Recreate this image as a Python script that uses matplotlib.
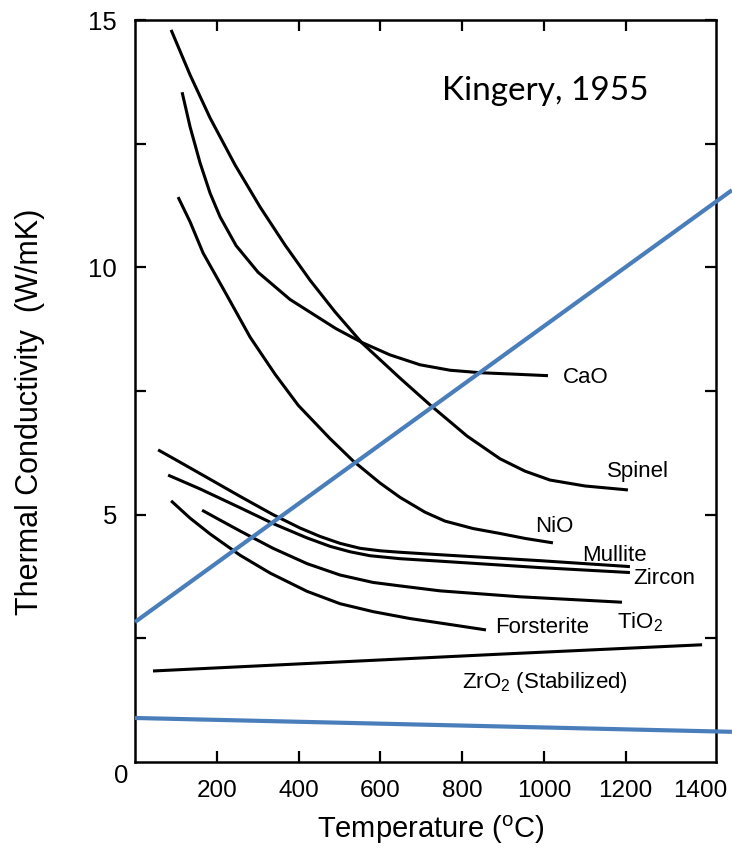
import matplotlib
matplotlib.use("Agg")
import matplotlib.pyplot as plt
import matplotlib.transforms as mtransforms

plt.rcParams['font.family'] = ['Liberation Sans', 'DejaVu Sans']
plt.rcParams['mathtext.fontset'] = 'custom'
plt.rcParams['mathtext.rm'] = 'Liberation Sans'

# ---- data (temperature in °C, conductivity in W/mK) ----
spinel_t = [88.3, 134.7, 183.6, 244.7, 305.9, 367.0, 428.1, 489.2, 555.3, 648.2,
            721.5, 812.0, 892.7, 953.8, 1014.9, 1100.5, 1205.6]
spinel_k = [14.80, 13.89, 13.02, 12.07, 11.22, 10.45, 9.74, 9.10, 8.47, 7.76,
            7.22, 6.59, 6.13, 5.88, 5.70, 5.58, 5.50]

cao_t = [115.2, 134.7, 159.2, 183.6, 208.1, 247.2, 301.0, 379.2, 491.7, 555.3,
         623.7, 697.1, 770.4, 843.8, 929.3, 1010.0]
cao_k = [13.54, 12.84, 12.11, 11.50, 11.02, 10.44, 9.90, 9.35, 8.76, 8.48,
         8.23, 8.03, 7.92, 7.87, 7.84, 7.81]

nio_t = [105.4, 134.7, 166.5, 220.3, 281.4, 342.5, 399.3, 476.7, 533.0, 599.3,
         648.2, 709.3, 758.2, 826.7, 892.7, 953.8, 1022.2]
nio_k = [11.42, 10.92, 10.29, 9.50, 8.59, 7.84, 7.21, 6.54, 6.09, 5.64,
         5.35, 5.05, 4.87, 4.72, 4.62, 4.52, 4.43]

mullite_t = [56.5, 110.3, 176.3, 257.0, 337.7, 403.7, 452.6, 501.5, 550.4, 599.3,
             648.2, 746.0, 990.5, 1210.5]
mullite_k = [6.31, 6.06, 5.75, 5.37, 5.00, 4.73, 4.56, 4.42, 4.32, 4.27,
             4.24, 4.19, 4.07, 3.95]

zircon_t = [81.0, 159.2, 257.0, 337.7, 420.8, 477.0, 525.9, 574.8, 648.2, 746.0,
            990.5, 1210.5]
zircon_k = [5.80, 5.52, 5.14, 4.82, 4.53, 4.36, 4.25, 4.17, 4.11, 4.06,
            3.93, 3.83]

tio2_t = [164.1, 208.1, 257.0, 337.7, 420.8, 501.5, 582.2, 648.2, 746.0, 941.6, 1191.0]
tio2_k = [5.09, 4.89, 4.67, 4.32, 4.01, 3.78, 3.63, 3.56, 3.46, 3.34, 3.23]

forst_t = [88.3, 134.7, 183.6, 257.0, 330.3, 420.8, 501.5, 582.2, 672.6, 746.0, 858.5]
forst_k = [5.28, 4.93, 4.61, 4.18, 3.82, 3.45, 3.20, 3.04, 2.90, 2.81, 2.67]

zro2_t = [44, 893, 1387]
zro2_k = [1.84, 2.18, 2.37]

blue1_t = [0, 1460]
blue1_k = [2.83, 11.56]
blue2_t = [0, 1460]
blue2_k = [0.89, 0.61]

labels = ['CaO', 'Spinel', 'NiO', 'Mullite', 'Zircon', r'TiO$\mathregular{_2}$',
          'Forsterite', r'ZrO$\mathregular{_2}$ (Stabilized)']
label_t = [1046, 1154, 978, 1093, 1218, 1178, 880, 800]
label_k = [7.66, 5.76, 4.65, 4.06, 3.60, 2.71, 2.61, 1.50]

xticks = [200, 400, 600, 800, 1000, 1200, 1400]
yticks_major = [5, 10, 15]
yticks_all = [0, 2.5, 5, 7.5, 10, 12.5, 15]

fig = plt.figure(figsize=(7.32, 8.52), dpi=100)
ax = fig.add_axes([135/732, 1-762/852, (716-135)/732, (762-20)/852])

lw = 2.2
for t, k in [(spinel_t, spinel_k), (cao_t, cao_k), (nio_t, nio_k),
             (mullite_t, mullite_k), (zircon_t, zircon_k), (tio2_t, tio2_k),
             (forst_t, forst_k), (zro2_t, zro2_k)]:
    ax.plot(t, k, color='black', lw=lw, solid_capstyle='butt', solid_joinstyle='round')

for t, k in [(blue1_t, blue1_k), (blue2_t, blue2_k)]:
    ax.plot(t, k, color='#4a7ebb', lw=3.0, clip_on=False, zorder=5,
            solid_capstyle='butt')

for s, x, y in zip(labels, label_t, label_k):
    ax.text(x, y, s, fontsize=16, ha='left', va='baseline')

ax.text(750, 13.38, 'Kingery, 1955', fontsize=24, family=['Lato', 'DejaVu Sans'],
        ha='left', va='baseline')

ax.set_xlim(0, 1421)
ax.set_ylim(0, 15)

ax.set_xticks(xticks)
ax.set_xticklabels([str(v) for v in xticks])
ax.set_yticks(yticks_all)
ax.set_yticklabels(['' if (v not in yticks_major) else str(int(v)) for v in yticks_all])

ax.tick_params(direction='in', length=8, width=1.6, pad=13, top=True, right=True)
ax.tick_params(axis='x', labelsize=17.5)
ax.tick_params(axis='y', labelsize=18.5)

# 1400: label only, shifted slightly left as in the reference
t1400 = ax.xaxis.get_major_ticks()[-1]
t1400.tick1line.set_visible(False)
t1400.tick2line.set_visible(False)
lab = ax.get_xticklabels()[-1]
lab.set_transform(lab.get_transform() + mtransforms.ScaledTranslation(-7/100, 0, fig.dpi_scale_trans))

yt0 = ax.yaxis.get_major_ticks()[0]
yt0.tick1line.set_visible(False)
yt0.tick2line.set_visible(False)

for sp in ax.spines.values():
    sp.set_linewidth(1.8)

fig.text(121.5/732, 1-776/852, '0', fontsize=18.5, ha='center', va='center')

fig.text(431/732, 1-830/852, r'Temperature ($\mathregular{^{o}}$C)', fontsize=21,
         ha='center', va='center')
fig.text(30/732, 1-412/852, 'Thermal Conductivity  (W/mK)', fontsize=22,
         rotation=90, ha='center', va='center')

fig.savefig('out.png', dpi=100)
